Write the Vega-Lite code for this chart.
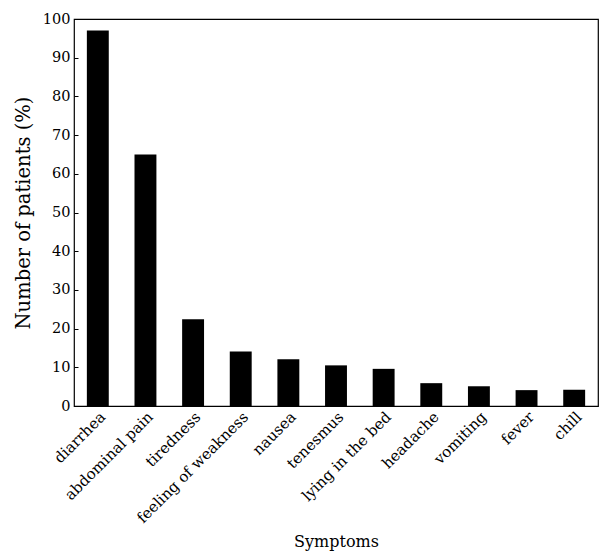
{
  "$schema": "https://vega.github.io/schema/vega-lite/v6.json",
  "width": 524,
  "height": 387,
  "autosize": "none",
  "padding": {"left": 74, "top": 19, "right": 3, "bottom": 152},
  "background": "white",
  "config": {
    "view": {"stroke": "black", "strokeWidth": 1.2},
    "font": "DejaVu Serif"
  },
  "data": {
    "values": [
      {"symptom": "diarrhea", "pct": 97},
      {"symptom": "abdominal  pain", "pct": 65},
      {"symptom": "tiredness", "pct": 22.4},
      {"symptom": "feeling of weakness", "pct": 14.1},
      {"symptom": "nausea", "pct": 12.1},
      {"symptom": "tenesmus", "pct": 10.5},
      {"symptom": "lying in the bed", "pct": 9.6},
      {"symptom": "headache", "pct": 5.9},
      {"symptom": "vomiting", "pct": 5.1},
      {"symptom": "fever", "pct": 4.1},
      {"symptom": "chill", "pct": 4.2}
    ]
  },
  "mark": {"type": "bar", "color": "black"},
  "encoding": {
    "x": {
      "field": "symptom",
      "type": "nominal",
      "sort": null,
      "scale": {"paddingInner": 0.54, "paddingOuter": 0.27},
      "axis": {
        "title": "Symptoms",
        "titleFont": "DejaVu Serif",
        "titleFontSize": 16,
        "titleFontWeight": "normal",
        "titleColor": "black",
        "titlePadding": 8,
        "labelAngle": -45,
        "labelAlign": "right",
        "labelBaseline": "top",
        "labelFont": "DejaVu Serif",
        "labelFontSize": 15,
        "labelColor": "black",
        "labelPadding": 3,
        "ticks": false,
        "domain": false
      }
    },
    "y": {
      "field": "pct",
      "type": "quantitative",
      "scale": {"domain": [0, 100], "nice": false},
      "axis": {
        "title": "Number of patients (%)",
        "titleFont": "DejaVu Serif",
        "titleFontSize": 19.5,
        "titleFontWeight": "normal",
        "titleColor": "black",
        "titlePadding": 9,
        "values": [0, 10, 20, 30, 40, 50, 60, 70, 80, 90, 100],
        "labelFont": "DejaVu Serif",
        "labelFontSize": 14.5,
        "labelColor": "black",
        "labelPadding": 8,
        "tickSize": -4,
        "tickColor": "black",
        "domain": false,
        "grid": false
      }
    }
  }
}
